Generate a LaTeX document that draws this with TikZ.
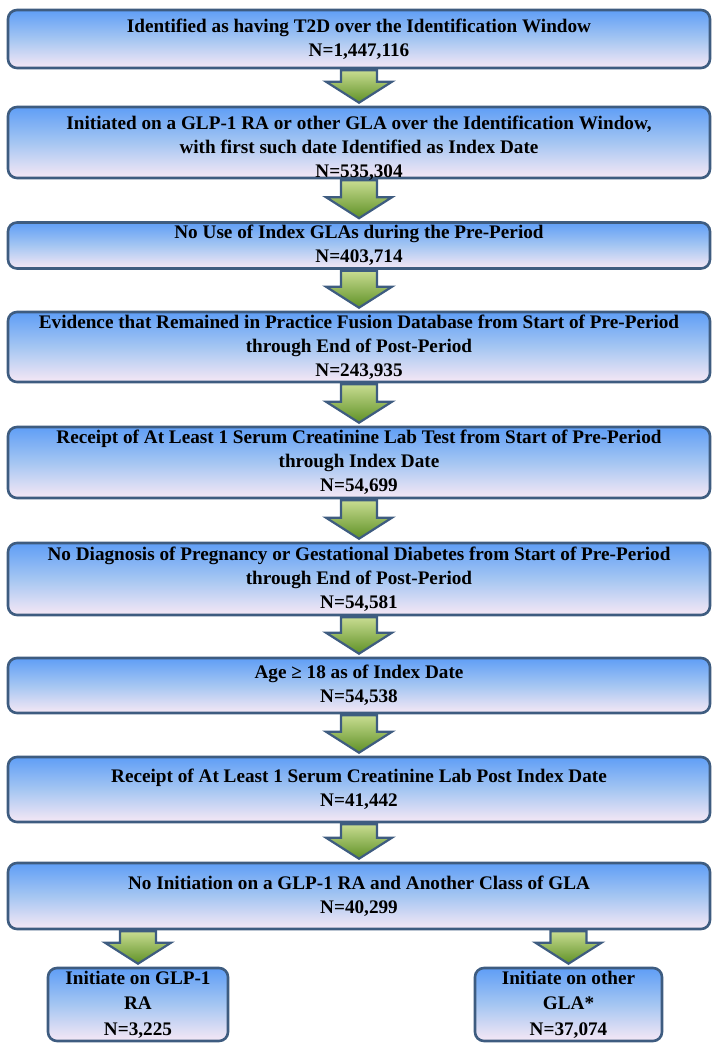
\documentclass[tikz,border=0pt]{standalone}
\usepackage{fontspec}
\setmainfont{Liberation Serif}
\usetikzlibrary{calc}
\definecolor{bordc}{RGB}{62,92,128}
\definecolor{btop}{RGB}{95,158,246}
\definecolor{bmid}{RGB}{165,198,242}
\definecolor{bbot}{RGB}{246,232,245}
\definecolor{gtop}{RGB}{200,220,145}
\definecolor{gbot}{RGB}{95,145,38}
\tikzset{
  box/.style={rectangle, rounded corners=9pt, draw=bordc, line width=2.6pt,
    top color=btop, bottom color=bbot, middle color=bmid, inner sep=0pt},
  txt/.style={align=center, font=\fontsize{19.2}{23.8}\selectfont\bfseries, inner sep=0pt},
  txtb/.style={align=center, font=\fontsize{19.2}{25.5}\selectfont\bfseries, inner sep=0pt},
  barrowsty/.style={draw=bordc, line width=2.2pt, top color=gtop, bottom color=gbot, line join=miter},
}
\newcommand\barrow[2]{\path[barrowsty] let \p1=#1, \p2=#2 in
  (\x1-18pt,\y1-1pt) -- (\x1+18pt,\y1-1pt) -- (\x1+18pt,\y2+24pt) -- (\x1+33pt,\y2+24pt)
  -- (\x1,\y2+3pt) -- (\x1-33pt,\y2+24pt) -- (\x1-18pt,\y2+24pt) -- cycle;}
\begin{document}
\begin{tikzpicture}[x=1pt,y=1pt]
\useasboundingbox (0,0) rectangle (718,-1048);
\node[box, minimum width=702pt, minimum height=58pt] (b1) at (359,-39) {};
\node[box, minimum width=702pt, minimum height=71pt] (b2) at (359,-142.5) {};
\node[box, minimum width=702pt, minimum height=46pt] (b3) at (359,-245.5) {};
\node[box, minimum width=702pt, minimum height=70pt] (b4) at (359,-347) {};
\node[box, minimum width=702pt, minimum height=71pt] (b5) at (359,-462.5) {};
\node[box, minimum width=702pt, minimum height=72pt] (b6) at (359,-579) {};
\node[box, minimum width=702pt, minimum height=55pt] (b7) at (359,-685.5) {};
\node[box, minimum width=702pt, minimum height=65pt] (b8) at (359,-789.5) {};
\node[box, minimum width=702pt, minimum height=66pt] (b9) at (359,-896) {};
\node[box, minimum width=180pt, minimum height=73pt] (b10) at (138,-1004.5) {};
\node[box, minimum width=187pt, minimum height=73pt] (b11) at (568.5,-1004.5) {};

\barrow{(b1.south)}{(b2.north)}
\barrow{(b2.south)}{(b3.north)}
\barrow{(b3.south)}{(b4.north)}
\barrow{(b4.south)}{(b5.north)}
\barrow{(b5.south)}{(b6.north)}
\barrow{(b6.south)}{(b7.north)}
\barrow{(b7.south)}{(b8.north)}
\barrow{(b8.south)}{(b9.north)}
\barrow{(b9.south -| b10.north)}{(b10.north)}
\barrow{(b9.south -| b11.north)}{(b11.north)}

\node[txt] (t1) at (b1) {Identified as having T2D over the Identification Window\\N=1,447,116};
\node[txt] (t2) at ([yshift=-6pt]b2.center) {Initiated on a GLP-1 RA or other GLA over the Identification Window,\\with first such date Identified as Index Date\\N=535,304};
\node[txt] (t3) at (b3) {No Use of Index GLAs during the Pre-Period\\N=403,714};
\node[txt] (t4) at (b4) {Evidence that Remained in Practice Fusion Database from Start of Pre-Period\\through End of Post-Period\\N=243,935};
\node[txt] (t5) at (b5) {Receipt of At Least 1 Serum Creatinine Lab Test from Start of Pre-Period\\through Index Date\\N=54,699};
\node[txt] (t6) at (b6) {No Diagnosis of Pregnancy or Gestational Diabetes from Start of Pre-Period\\through End of Post-Period\\N=54,581};
\node[txt] (t7) at (b7) {Age ≥ 18 as of Index Date\\N=54,538};
\node[txt] (t8) at (b8) {Receipt of At Least 1 Serum Creatinine Lab Post Index Date\\N=41,442};
\node[txt] (t9) at (b9) {No Initiation on a GLP-1 RA and Another Class of GLA\\N=40,299};
\node[txtb] (t10) at (b10) {Initiate on GLP-1\\RA\\N=3,225};
\node[txtb] (t11) at (b11) {Initiate on other\\GLA*\\N=37,074};
\end{tikzpicture}
\end{document}
